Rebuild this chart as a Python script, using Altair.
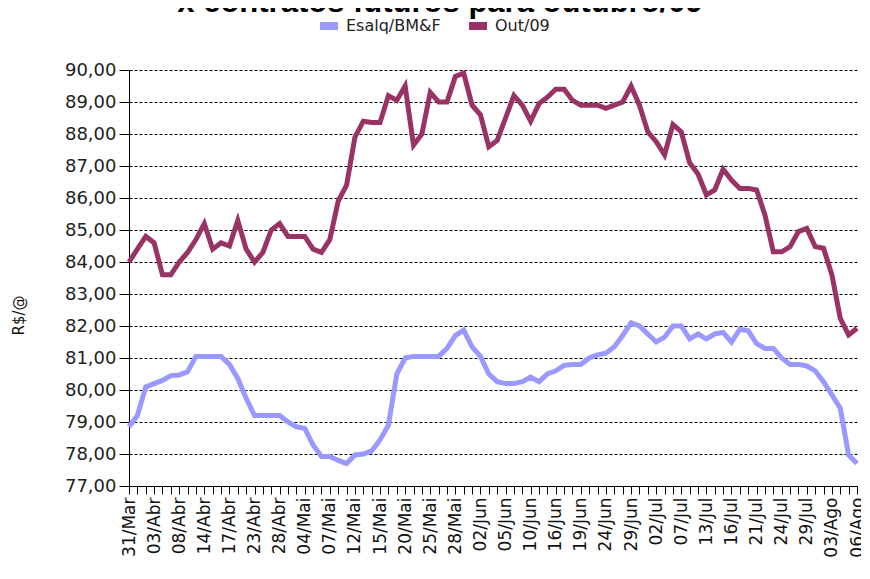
import json
import altair as alt
import pandas as pd

# Tick labels (every third trading day)
date_labels = ["31/Mar", "03/Abr", "08/Abr", "14/Abr", "17/Abr", "23/Abr", "28/Abr",
               "04/Mai", "07/Mai", "12/Mai", "15/Mai", "20/Mai", "25/Mai", "28/Mai",
               "02/Jun", "05/Jun", "10/Jun", "16/Jun", "19/Jun", "24/Jun", "29/Jun",
               "02/Jul", "07/Jul", "13/Jul", "16/Jul", "21/Jul", "24/Jul", "29/Jul",
               "03/Ago", "06/Ago"]

series_names = ["Esalq/BM&F", "Out/09"]
title_text = ["x contratos futuros para outubro/09"]

esalq = [78.85, 79.2, 80.1, 80.2, 80.3, 80.45, 80.47, 80.57, 81.05, 81.05,
         81.05, 81.05, 80.8, 80.36, 79.74, 79.2, 79.2, 79.2, 79.2, 79.0,
         78.85, 78.8, 78.28, 77.92, 77.92, 77.8, 77.7, 77.97, 78.0, 78.1,
         78.44, 78.9, 80.5, 81.0, 81.05, 81.05, 81.05, 81.05, 81.3, 81.7,
         81.87, 81.35, 81.05, 80.5, 80.26, 80.2, 80.2, 80.26, 80.4, 80.26,
         80.5, 80.6, 80.77, 80.8, 80.8, 81.0, 81.1, 81.15, 81.35, 81.7,
         82.1, 82.0, 81.75, 81.5, 81.65, 82.0, 82.0, 81.6, 81.75, 81.6,
         81.75, 81.8, 81.5, 81.9, 81.85, 81.45, 81.3, 81.3, 81.0, 80.8,
         80.8, 80.75, 80.6, 80.26, 79.85, 79.43, 77.97, 77.7]

out09 = [84.0, 84.4, 84.8, 84.6, 83.6, 83.6, 84.0, 84.3, 84.7, 85.2,
         84.4, 84.6, 84.5, 85.3, 84.4, 84.0, 84.3, 85.0, 85.2, 84.8,
         84.8, 84.8, 84.4, 84.3, 84.7, 85.9, 86.4, 87.9, 88.4, 88.36,
         88.36, 89.2, 89.05, 89.5, 87.65, 88.0, 89.3, 89.0, 89.0, 89.8,
         89.9, 88.9, 88.6, 87.6, 87.8, 88.5, 89.2, 88.9, 88.4, 88.95,
         89.15, 89.4, 89.4, 89.05, 88.9, 88.9, 88.9, 88.8, 88.9, 89.0,
         89.5, 88.9, 88.07, 87.76, 87.35, 88.3, 88.07, 87.1, 86.75, 86.1,
         86.25, 86.9, 86.56, 86.3, 86.3, 86.25, 85.47, 84.32, 84.32, 84.48,
         84.95, 85.05, 84.48, 84.43, 83.6, 82.24, 81.72, 81.93]

colors = ["#9999ff", "#993366"]

n = len(esalq)
df = pd.concat([
    pd.DataFrame({"day": range(n), "value": esalq, "serie": series_names[0]}),
    pd.DataFrame({"day": range(n), "value": out09, "serie": series_names[1]}),
])

label_expr = ("datum.value % 3 == 0 ? " + json.dumps(date_labels).replace('"', "'")
              + "[datum.value / 3] : ''")

lines = alt.Chart(df).mark_line(strokeWidth=5).encode(
    x=alt.X("day:Q",
            scale=alt.Scale(domain=[0, n - 1], nice=False, zero=False),
            axis=alt.Axis(values=list(range(n)), labelExpr=label_expr, labelAngle=270,
                          title=None, grid=False, tickSize=8, tickColor="black",
                          domainColor="black", labelFont="DejaVu Sans", labelFontSize=17,
                          labelColor="#111", labelOverlap=False, labelPadding=3,
                          labelFlush=False)),
    y=alt.Y("value:Q",
            scale=alt.Scale(domain=[77, 90], nice=False, zero=False),
            axis=alt.Axis(values=list(range(77, 91)),
                          labelExpr="replace(format(datum.value, '.2f'), '.', ',')",
                          title="R$/@", titleAngle=270, titleX=-111, titleY=245,
                          titleAlign="center", titleBaseline="middle",
                          titleFont="DejaVu Sans", titleFontSize=15, titleFontWeight="normal",
                          titleColor="#111",
                          grid=True, gridDash=[3, 2], gridColor="black", gridOpacity=1,
                          tickSize=10, tickColor="black", domainColor="black",
                          labelFont="DejaVu Sans", labelFontSize=18, labelColor="#222",
                          labelPadding=3)),
    color=alt.Color("serie:N",
                    scale=alt.Scale(domain=series_names, range=colors),
                    legend=alt.Legend(title=None, orient="none", direction="horizontal",
                                      legendX=187, legendY=-57,
                                      symbolType="stroke", symbolStrokeWidth=8,
                                      symbolSize=324, labelFont="DejaVu Sans",
                                      labelFontSize=16, labelColor="#222",
                                      columnPadding=12, labelOffset=4)),
)

title = alt.Chart(pd.DataFrame({"t": title_text})).mark_text(
    font="Liberation Sans", fontSize=31, fontWeight="bold", color="black",
    align="center", baseline="alphabetic",
).encode(text="t:N", x=alt.value(311), y=alt.value(-58))

chart = alt.layer(lines, title).properties(
    width=728,
    height=416,
    padding={"left": 121, "top": 62, "right": 4, "bottom": 85},
    autosize=alt.AutoSizeParams(type="none"),
).configure_view(stroke=None)

chart.save("out.html", embed_options={"renderer": "svg", "actions": False})
